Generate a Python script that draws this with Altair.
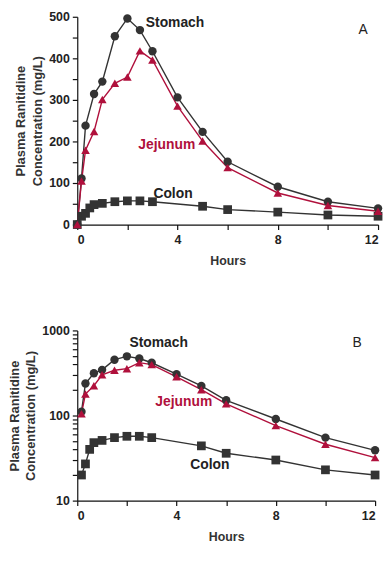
import altair as alt
import pandas as pd

# ---- data ----
series_names = ["Stomach", "Jejunum", "Colon"]

stomach_t = [0, 0.17, 0.33, 0.67, 1, 1.5, 2, 2.5, 3, 4, 5, 6, 8, 10, 12]
stomach_v = [0, 111, 238, 314, 344, 453, 496, 468, 417, 306, 223, 151, 91, 55, 39]

jejunum_t = [0, 0.17, 0.33, 0.67, 1, 1.5, 2, 2.5, 3, 4, 5, 6, 8, 10, 12]
jejunum_v = [0, 105, 179, 224, 301, 340, 355, 418, 396, 285, 201, 137, 76, 46, 32]

colon_t = [0, 0.17, 0.33, 0.5, 0.67, 1, 1.5, 2, 2.5, 3, 5, 6, 8, 10, 12]
colon_v = [0, 20, 27, 40, 48, 51, 55, 57, 57, 55, 44, 36, 30, 23, 20]

# annotation labels (panel A, panel B)
labels_a_text = ["Stomach", "Jejunum", "Colon", "A"]
labels_a_t = [3.9, 3.57, 3.82, 11.4]
labels_a_v = [484, 191, 74, 469]

labels_b_text = ["Stomach", "Jejunum", "Colon", "B"]
labels_b_t = [3.28, 4.29, 5.34, 11.28]
labels_b_v = [705, 143, 26.5, 705]

label_colors = ["#222222", "#B0103C", "#222222", "#222222"]

x_ticks = [0, 2, 4, 6, 8, 10, 12]
ya_ticks = [0, 50, 100, 150, 200, 250, 300, 350, 400, 450, 500]
yb_ticks = [10, 20, 30, 40, 50, 60, 70, 80, 90, 100, 200, 300, 400, 500,
            600, 700, 800, 900, 1000]

# ---- build tables ----
rows = []
for name, ts, vs in [("Stomach", stomach_t, stomach_v),
                     ("Jejunum", jejunum_t, jejunum_v),
                     ("Colon", colon_t, colon_v)]:
    for t, v in zip(ts, vs):
        rows.append({"s": name, "t": t, "v": v})
df = pd.DataFrame(rows)
df_a = df
df_b = df[df["v"] > 0]

lab_a = pd.DataFrame({"txt": labels_a_text, "t": labels_a_t, "v": labels_a_v,
                      "c": label_colors, "b": ["y", "y", "y", "n"]})
lab_b = pd.DataFrame({"txt": labels_b_text, "t": labels_b_t, "v": labels_b_v,
                      "c": label_colors, "b": ["y", "y", "y", "n"]})

FONT = "Liberation Sans"
CRIMSON = "#B0103C"

line_color = alt.Color("s:N", scale=alt.Scale(domain=series_names,
                       range=["#333333", CRIMSON, "#333333"]), legend=None)
pt_color = alt.Color("s:N", scale=alt.Scale(domain=series_names,
                     range=["#111111", CRIMSON, "#111111"]), legend=None)
pt_shape = alt.Shape("s:N", scale=alt.Scale(domain=series_names,
                     range=["circle", "triangle-up", "square"]), legend=None)
pt_size = alt.Size("s:N", scale=alt.Scale(domain=series_names,
                   range=[72, 78, 52]), legend=None)
order = alt.Order("ord:Q")


def panel(data, labels, yscale, yticks, ylabel_expr, width, height):
    xenc = alt.X("t:Q", scale=alt.Scale(domain=[0, 12], nice=False, zero=False),
                 axis=alt.Axis(values=x_ticks,
                               labelExpr="datum.value % 4 == 0 ? datum.label : ''",
                               title="Hours", grid=False, labelPadding=4,
                               titlePadding=9))
    yenc = alt.Y("v:Q", scale=yscale,
                 axis=alt.Axis(values=yticks, labelExpr=ylabel_expr, format="d",
                               title=["Plasma Ranitidine", "Concentration (mg/L)"],
                               grid=False, labelPadding=3, titlePadding=4))
    base = alt.Chart(data).transform_calculate(
        ord="datum.s == 'Jejunum' ? 2 : (datum.s == 'Stomach' ? 1 : 0)")
    lines = base.mark_line(strokeWidth=1.4).encode(
        x=xenc, y=yenc, color=line_color, detail="s:N")
    pts = base.mark_point(filled=True, opacity=1, strokeWidth=0).encode(
        x=xenc, y=yenc, color=pt_color, shape=pt_shape, size=pt_size, order=order)
    txt_bold = alt.Chart(labels[labels["b"] == "y"]).mark_text(
        font=FONT, fontSize=14, fontWeight="bold").encode(
        x=xenc, y=yenc, text="txt:N", color=alt.Color("c:N", scale=None))
    txt_plain = alt.Chart(labels[labels["b"] == "n"]).mark_text(
        font=FONT, fontSize=14).encode(
        x=xenc, y=yenc, text="txt:N", color=alt.Color("c:N", scale=None))
    return alt.layer(lines, pts, txt_bold, txt_plain).properties(
        width=width, height=height)


chart_a = panel(df_a, lab_a, alt.Scale(domain=[0, 500], nice=False), ya_ticks,
                "datum.value % 100 == 0 ? datum.label : ''", 304, 210)
chart_b = panel(df_b, lab_b, alt.Scale(type="log", domain=[10, 1000], nice=False),
                yb_ticks,
                "(datum.value == 10 || datum.value == 100 || datum.value == 1000) ? datum.label : ''",
                301, 172)

chart = alt.concat(chart_a, chart_b, columns=1, align="none", spacing=58).properties(
    padding={"left": 0, "top": 0, "right": 0, "bottom": 0}
).configure_view(stroke=None).configure_axis(
    domainColor="#111111", tickColor="#111111", tickSize=5, domainWidth=1.2,
    tickWidth=1.2,
    labelFont=FONT, labelFontSize=12.5, labelFontWeight="bold",
    labelColor="#222222",
    titleFont=FONT, titleFontSize=13, titleFontWeight="bold",
    titleColor="#333333", titleLineHeight=17
).configure_axisX(titleFontSize=12.5)

chart.save("out.html", embed_options={"renderer": "svg", "actions": False})
